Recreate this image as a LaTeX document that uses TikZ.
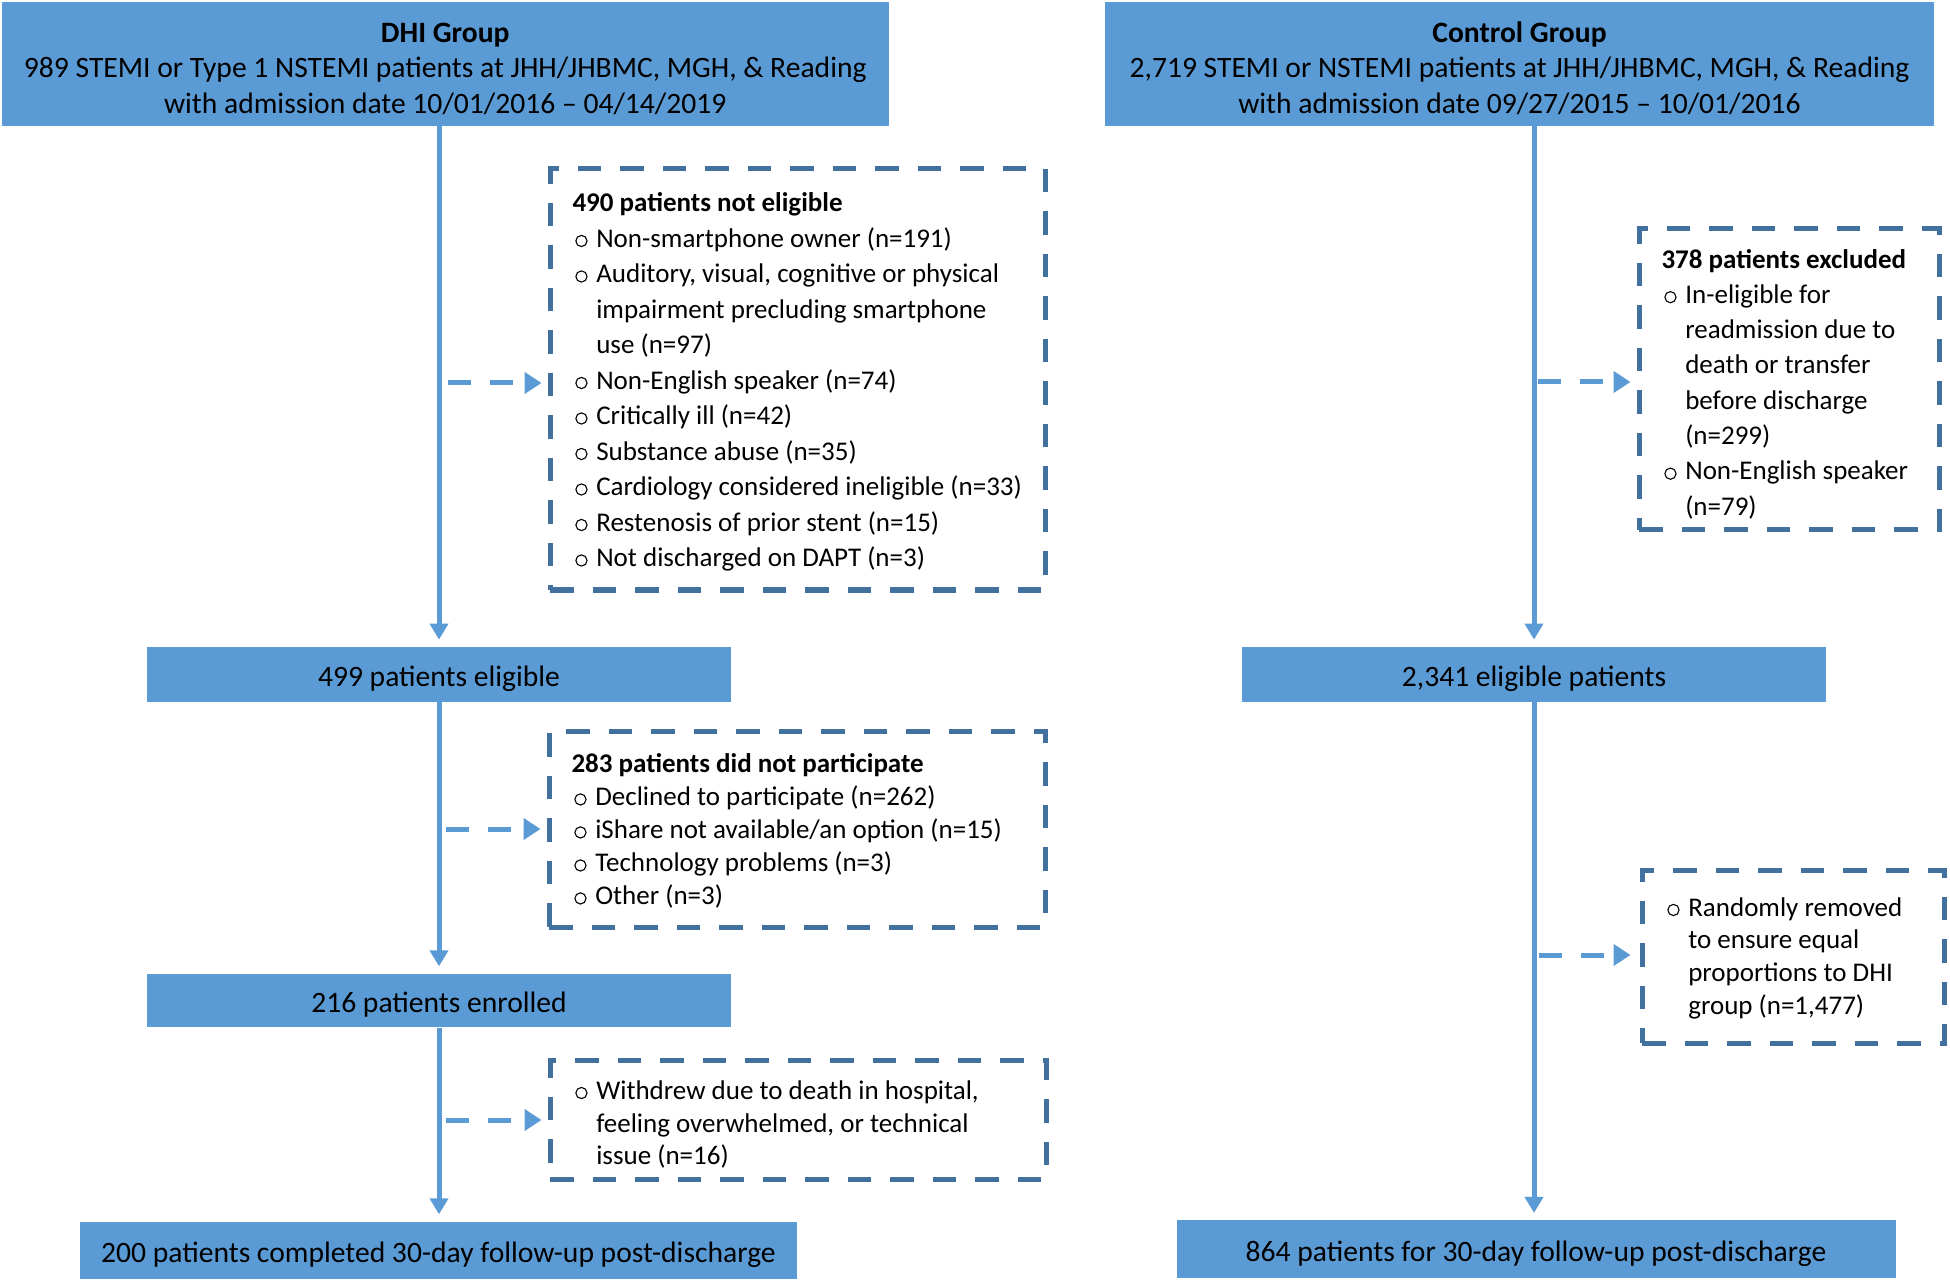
\documentclass[tikz,border=0pt]{standalone}
\usepackage{fontspec}
\setmainfont{Carlito}
\usetikzlibrary{arrows.meta}
\definecolor{boxblue}{HTML}{5B9BD5}
\definecolor{dashblue}{HTML}{41719C}
\newcommand{\ns}{\spaceskip=0pt\xspaceskip=0pt\relax}
\newcommand{\bulcirc}{\tikz[baseline=0pt]\draw[solid, line width=0.55pt, draw=black] (0pt,3.1pt) circle (2.8pt);}
\newcommand{\li}[1]{\makebox[11.9pt][l]{\hspace{1.4pt}\bulcirc}\mbox{#1}}
\newcommand{\ci}[1]{\hspace*{11.9pt}\mbox{#1}}
\tikzset{
  solidbox/.style={fill=boxblue, draw=none, inner sep=0pt, align=center, text=black},
  exbox/.style={draw=dashblue, line width=2.5pt, dash pattern=on 11.75pt off 9.5pt,
     inner xsep=11.25pt, inner ysep=0pt, align=left, text=black},
  flow/.style={draw=boxblue, line width=2.5pt, -{Triangle[length=8pt,width=9pt]}, shorten >=3.5pt},
  side/.style={draw=boxblue, line width=2.5pt, dash pattern=on 11.5pt off 9.5pt,
     -{Triangle[length=8.5pt,width=10.5pt]}, shorten >=3pt}
}
\begin{document}
\begin{tikzpicture}[x=0.5pt,y=-0.5pt]
\path[use as bounding box] (0,0) rectangle (1950,1283);

% header boxes
\node[solidbox, minimum width=443.75pt, minimum height=61.75pt,
      font=\fontsize{14.8}{17.9}\selectfont] (dhi) at (445.25,64.25)
  {\rule{0pt}{14.2pt}\textbf{DHI Group}\\989 STEMI or Type 1 NSTEMI patients at JHH/JHBMC, MGH, \& Reading\\with admission date 10/01/2016 – 04/14/2019};
\node[solidbox, minimum width=414.5pt, minimum height=61.75pt,
      font=\fontsize{14.8}{17.9}\selectfont] (ctrl) at (1519.5,64.25)
  {\rule{0pt}{14.2pt}\textbf{Control Group}\\2,719 STEMI or NSTEMI patients at JHH/JHBMC, MGH, \& Reading\\with admission date 09/27/2015 – 10/01/2016};

% middle solid boxes
\node[solidbox, minimum width=292pt, minimum height=27.5pt, font=\fontsize{14.8}{18}\selectfont]
  (elig) at (439,674.5) {\rule{0pt}{15pt}499 patients eligible};
\node[solidbox, minimum width=292pt, minimum height=27.5pt, font=\fontsize{14.8}{18}\selectfont]
  (elig2) at (1534,674.5) {\rule{0pt}{15pt}2,341 eligible patients};
\node[solidbox, minimum width=292pt, minimum height=26.75pt, font=\fontsize{14.8}{18}\selectfont]
  (enr) at (439,1000.5) {\rule{0pt}{14.3pt}216 patients enrolled};
\node[solidbox, minimum width=358.75pt, minimum height=28.8pt, font=\fontsize{14.8}{18}\selectfont]
  (fin) at (438.5,1250.5) {\rule{0pt}{15pt}200 patients completed 30-day follow-up post-discharge};
\node[solidbox, minimum width=359.5pt, minimum height=28.7pt, font=\fontsize{14.8}{18}\selectfont]
  (fin2) at (1536,1249) {\rule{0pt}{15pt}864 patients for 30-day follow-up post-discharge};

% dashed exclusion boxes
\node[exbox, minimum width=247.5pt, minimum height=210.5pt, text width=225pt,
      font=\fontsize{13.5}{17.75}\selectfont] (ex1) at (797.5,379.5)
  {\ns\rule{0pt}{12pt}\mbox{\textbf{490 patients not eligible}}\\
   \li{Non-smartphone owner (n=191)}\\
   \li{Auditory, visual, cognitive or physical}\\
   \ci{impairment precluding smartphone}\\
   \ci{use (n=97)}\\
   \li{Non-English speaker (n=74)}\\
   \li{Critically ill (n=42)}\\
   \li{Substance abuse (n=35)}\\
   \li{Cardiology considered ineligible (n=33)}\\
   \li{Restenosis of prior stent (n=15)}\\
   \li{Not discharged on DAPT (n=3)}};

\node[exbox, minimum width=248pt, minimum height=98pt, text width=225.5pt,
      font=\fontsize{13.5}{16.5}\selectfont] (ex2) at (797,829)
  {\ns\rule{0pt}{11.5pt}\mbox{\textbf{283 patients did not participate}}\\
   \li{Declined to participate (n=262)}\\
   \li{iShare not available/an option (n=15)}\\
   \li{Technology problems (n=3)}\\
   \li{Other (n=3)}};

\node[exbox, minimum width=248pt, minimum height=59.5pt, text width=225.5pt,
      font=\fontsize{13.5}{16.4}\selectfont] (ex3) at (798,1119.5)
  {\ns\rule{0pt}{14.4pt}\li{Withdrew due to death in hospital,}\\
   \ci{feeling overwhelmed, or technical}\\
   \ci{issue (n=16)}};

\node[exbox, minimum width=150pt, minimum height=150.5pt, text width=127.5pt,
      font=\fontsize{13.5}{17.65}\selectfont] (ex4) at (1789,379.5)
  {\ns\rule{0pt}{14pt}\mbox{\textbf{378 patients excluded}}\\
   \li{In-eligible for}\\
   \ci{readmission due to}\\
   \ci{death or transfer}\\
   \ci{before discharge}\\
   \ci{(n=299)}\\
   \li{Non-English speaker}\\
   \ci{(n=79)}};

\node[exbox, minimum width=151pt, minimum height=86.5pt, text width=128.5pt,
      font=\fontsize{13.5}{16.4}\selectfont] (ex5) at (1793,956.5)
  {\ns\rule{0pt}{11.2pt}\li{Randomly removed}\\
   \ci{to ensure equal}\\
   \ci{proportions to DHI}\\
   \ci{group (n=1,477)}};

% main flow connectors
\draw[flow] (dhi.south -| elig.north) -- (elig.north);
\draw[flow] (elig.south) -- (enr.north);
\draw[flow] (enr.south) -- (fin.north -| enr.south);
\draw[flow] (ctrl.south -| elig2.north) -- (elig2.north);
\draw[flow] (elig2.south) -- (fin2.north -| elig2.south);

% side connectors
\coordinate (s1) at (448,383);
\coordinate (s2) at (446,829);
\coordinate (s3) at (446,1120);
\coordinate (s4) at (1538,382);
\coordinate (s5) at (1539,955);
\draw[side] (s1) -- (s1 -| ex1.west);
\draw[side] (s2) -- (s2 -| ex2.west);
\draw[side] (s3) -- (s3 -| ex3.west);
\draw[side] (s4) -- (s4 -| ex4.west);
\draw[side, shorten >=4.5pt] (s5) -- (s5 -| ex5.west);
\end{tikzpicture}
\end{document}
